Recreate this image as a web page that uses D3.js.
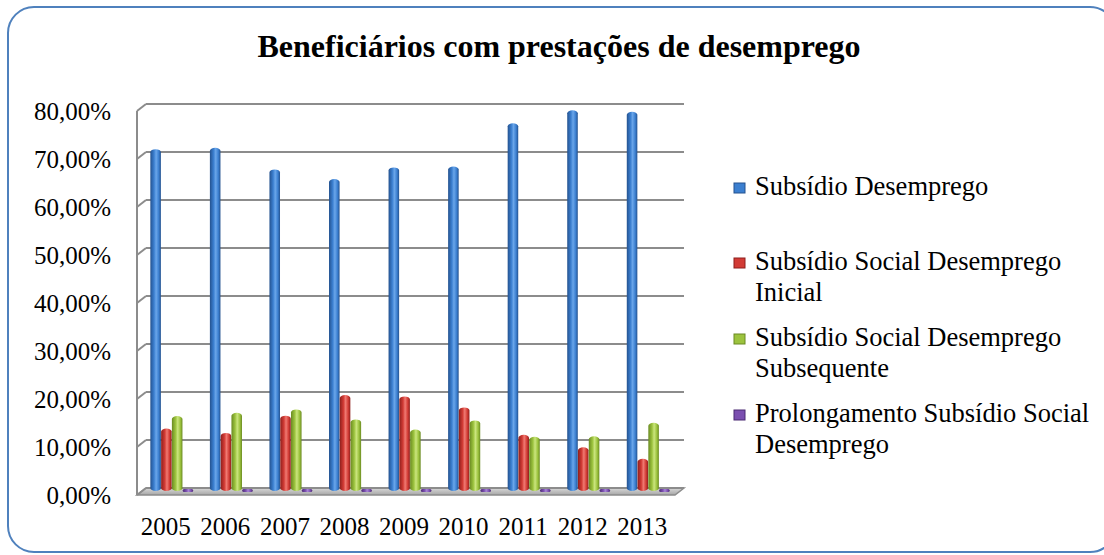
<!DOCTYPE html>
<html>
<head>
<meta charset="utf-8">
<script src="https://cdn.jsdelivr.net/npm/d3@7"></script>
<style>
  body { margin: 0; background: #fff; }
  svg { display: block; font-family: "Liberation Serif", "Times New Roman", serif; }
</style>
</head>
<body>
<div id="chart"></div>
<script>
// données (en %)
const years = ["2005", "2006", "2007", "2008", "2009", "2010", "2011", "2012", "2013"];
const seriesNames = [
  "Subsídio Desemprego",
  "Subsídio Social Desemprego Inicial",
  "Subsídio Social Desemprego Subsequente",
  "Prolongamento Subsídio Social Desemprego"
];
const subsidioDesemprego = [71.2, 71.5, 67.0, 65.0, 67.4, 67.6, 76.6, 79.3, 79.0];
const socialInicial = [13.0, 12.1, 15.7, 20.0, 19.7, 17.4, 11.7, 9.1, 6.7];
const socialSubsequente = [15.6, 16.3, 17.0, 14.9, 12.8, 14.7, 11.3, 11.4, 14.2];
const prolongamento = [0.1, 0.1, 0.1, 0.1, 0.1, 0.1, 0.1, 0.1, 0.1];
const yTicks = [0, 10, 20, 30, 40, 50, 60, 70, 80];

const allSeries = [subsidioDesemprego, socialInicial, socialSubsequente, prolongamento];
const colors = [
  {dark: "#24528f", mid: "#3b7fd0", light: "#6aa6ea"},
  {dark: "#8e1f1c", mid: "#d23b35", light: "#f07a72"},
  {dark: "#6a8a22", mid: "#9cc33e", light: "#cbe57e"},
  {dark: "#4b2a73", mid: "#7b4fb0", light: "#a785d6"}
];

const W = 1104, H = 555;
const depthX = 9, depthY = 7;

const svg = d3.select("#chart").append("svg")
  .attr("width", W)
  .attr("height", H);

const defs = svg.append("defs");
colors.forEach((c, i) => {
  const g = defs.append("linearGradient")
    .attr("id", "cyl" + i)
    .attr("x1", "0").attr("x2", "1").attr("y1", "0").attr("y2", "0");
  g.append("stop").attr("offset", "0%").attr("stop-color", c.dark);
  g.append("stop").attr("offset", "35%").attr("stop-color", c.mid);
  g.append("stop").attr("offset", "55%").attr("stop-color", c.light);
  g.append("stop").attr("offset", "80%").attr("stop-color", c.mid);
  g.append("stop").attr("offset", "100%").attr("stop-color", c.dark);
});
const floorGrad = defs.append("linearGradient")
  .attr("id", "floor").attr("x1", 0).attr("x2", 0).attr("y1", 0).attr("y2", 1);
floorGrad.append("stop").attr("offset", "0%").attr("stop-color", "#d9d9d9");
floorGrad.append("stop").attr("offset", "100%").attr("stop-color", "#a6a6a6");

// cadre arrondi
svg.append("rect")
  .attr("x", 8).attr("y", 7)
  .attr("width", 1108).attr("height", 545)
  .attr("rx", 26).attr("ry", 26)
  .attr("fill", "none")
  .attr("stroke", "#4f81bd")
  .attr("stroke-width", 2);

// titre
svg.append("text")
  .attr("x", 559).attr("y", 57)
  .attr("text-anchor", "middle")
  .style("font-size", "32px")
  .style("font-weight", "bold")
  .text("Beneficiários com prestações de desemprego");

// échelles
const yBack = d3.scaleLinear().domain([0, 80]).range([488, 104]);
const xBackL = 146, xBackR = 684;

const x0 = d3.scaleBand()
  .domain(years)
  .range([142, 678])
  .paddingInner(0.28)
  .paddingOuter(0.14);
const x1 = d3.scaleBand()
  .domain(d3.range(allSeries.length))
  .range([0, x0.bandwidth()])
  .paddingInner(0.02);
const yBar = d3.scaleLinear().domain([0, 80]).range([491, 107]);

// sol
svg.append("path")
  .attr("d", `M${xBackL - depthX},${yBack(0) + depthY} L${xBackR - depthX},${yBack(0) + depthY} L${xBackR},${yBack(0)} L${xBackL},${yBack(0)} Z`)
  .attr("fill", "url(#floor)")
  .attr("stroke", "#8c8c8c")
  .attr("stroke-width", 1.5);

// grille du mur du fond + diagonales du mur gauche
const grid = svg.append("g");
grid.selectAll(".grid")
  .data(yTicks)
  .enter().append("line")
  .attr("x1", xBackL).attr("x2", xBackR)
  .attr("y1", d => yBack(d)).attr("y2", d => yBack(d))
  .attr("stroke", "#8c8c8c")
  .attr("stroke-width", 2);
grid.selectAll(".diag")
  .data(yTicks)
  .enter().append("line")
  .attr("x1", xBackL - depthX).attr("x2", xBackL)
  .attr("y1", d => yBack(d) + depthY).attr("y2", d => yBack(d))
  .attr("stroke", "#8c8c8c")
  .attr("stroke-width", 2);
grid.append("line")
  .attr("x1", xBackL - depthX).attr("x2", xBackL - depthX)
  .attr("y1", yBack(80) + depthY).attr("y2", yBack(0) + depthY)
  .attr("stroke", "#8c8c8c")
  .attr("stroke-width", 2);

// étiquettes de l'axe Y
svg.append("g").selectAll("text")
  .data(yTicks)
  .enter().append("text")
  .attr("x", 111)
  .attr("y", d => yBack(d) + 16)
  .attr("text-anchor", "end")
  .style("font-size", "25px")
  .text(d => d3.format(".2f")(d).replace(".", ",") + "%");

// étiquettes de l'axe X
svg.append("g").selectAll("text")
  .data(years)
  .enter().append("text")
  .attr("x", d => x0(d) + x0.bandwidth() / 2 - 6)
  .attr("y", 535)
  .attr("text-anchor", "middle")
  .style("font-size", "25px")
  .text(d => d);

// barres cylindriques
const groups = svg.append("g").selectAll("g")
  .data(years)
  .enter().append("g")
  .attr("transform", d => "translate(" + x0(d) + ",0)");

groups.selectAll("rect")
  .data((d, i) => allSeries.map((s, k) => ({k: k, v: s[i]})))
  .enter().append("rect")
  .attr("x", d => x1(d.k))
  .attr("width", x1.bandwidth())
  .attr("y", d => d.k === 3 ? yBar(0) - 2 : yBar(d.v))
  .attr("height", d => d.k === 3 ? 3 : yBar(0) - yBar(d.v))
  .attr("rx", d => d.k === 3 ? 1.5 : x1.bandwidth() / 2)
  .attr("ry", d => d.k === 3 ? 1.5 : 3)
  .attr("fill", d => "url(#cyl" + d.k + ")");

// légende
const legendLines = [
  ["Subsídio Desemprego"],
  ["Subsídio Social Desemprego", "Inicial"],
  ["Subsídio Social Desemprego", "Subsequente"],
  ["Prolongamento Subsídio Social", "Desemprego"]
];
const legendY = [195, 270, 346, 422];
const legend = svg.append("g").selectAll("g")
  .data(seriesNames)
  .enter().append("g")
  .attr("transform", (d, i) => "translate(734," + legendY[i] + ")");
legend.append("rect")
  .attr("x", 0).attr("y", -12)
  .attr("width", 11).attr("height", 10)
  .attr("fill", (d, i) => colors[i].mid)
  .attr("stroke", (d, i) => colors[i].dark)
  .attr("stroke-width", 1);
legend.each(function(d, i) {
  d3.select(this).selectAll("text")
    .data(legendLines[i])
    .enter().append("text")
    .attr("x", 21)
    .attr("y", (t, j) => j * 30.5)
    .style("font-size", "26.5px")
    .text(t => t);
});
</script>
</body>
</html>
